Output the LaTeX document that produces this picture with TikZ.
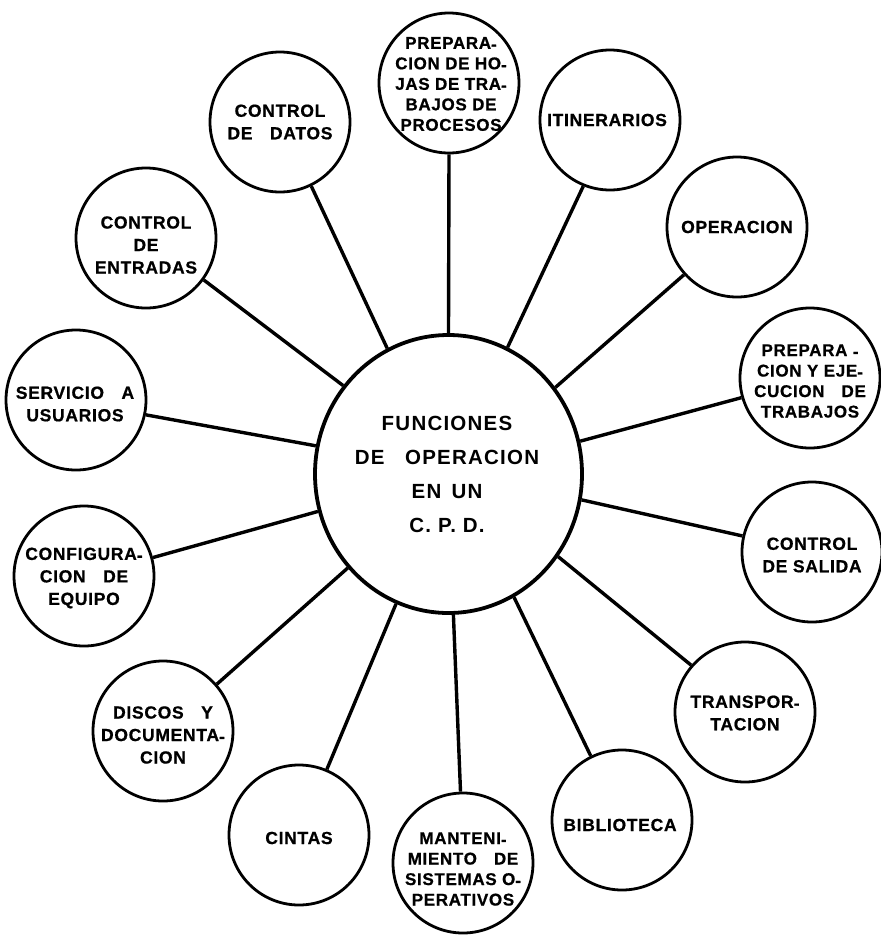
\documentclass[tikz,border=0pt]{standalone}
\usepackage{fontspec}
\setmainfont{Liberation Sans}
\newfontfamily\lblfont[LetterSpace=4,FakeBold=0.8]{Liberation Sans}
\newfontfamily\ctrfont[LetterSpace=6]{Liberation Sans}
\usetikzlibrary{shapes.geometric}
\newcommand\mydash{\raisebox{-0.15ex}{-}}
\tikzset{
  sat/.style={circle, draw, line width=2.8pt, minimum size=140pt, inner sep=0pt},
  txt/.style={align=center, inner sep=0pt, font=\lblfont\bfseries\fontsize{17.5}{22.5}\selectfont},
  txtsm/.style={align=center, inner sep=0pt, font=\lblfont\bfseries\fontsize{17}{20.5}\selectfont},
  link/.style={line width=3.4pt},
}
\begin{document}
\begin{tikzpicture}[x=1pt,y=-1pt]
\useasboundingbox (0,0) rectangle (881,938);
% central
\node[ellipse, draw, line width=3.8pt, minimum width=267pt, minimum height=278pt, inner sep=0pt] (c) at (448.5,474) {};
\node[align=center, inner sep=0pt, font=\ctrfont\bfseries\fontsize{20.5}{34}\selectfont] (ct) at (447,474) {FUNCIONES\\DE\quad OPERACION\\EN\enspace UN\\C.\,\,P.\,\,D.};
% satellites
\node[sat] (datos) at (280,122) {};
\node[txt] (datost) at (datos) {CONTROL\\DE\quad DATOS};
\node[sat] (hojas) at (449,83) {};
\node[txtsm] (hojast) at (451,84) {PREPARA\mydash\\CION DE HO\mydash\\JAS DE TRA\mydash\\BAJOS DE\qquad\\PROCESOS};
\node[sat] (itin) at (610,120) {};
\node[txt] (itint) at (607,120) {ITINERARIOS};
\node[sat] (oper) at (737,227) {};
\node[txt] (opert) at (oper) {OPERACION};
\node[sat] (prep) at (810,378) {};
\node[txtsm] (prept) at (810,381) {PREPARA \mydash\\CION Y EJE\mydash\\CUCION\quad DE\\TRABAJOS};
\node[sat] (salida) at (812,552) {};
\node[txt] (salidat) at (812,555) {CONTROL\\DE SALIDA};
\node[sat] (transp) at (745,712) {};
\node[txt] (transpt) at (745,713) {TRANSPOR\mydash\\TACION};
\node[sat] (biblio) at (622,820) {};
\node[txt] (bibliot) at (620,825) {BIBLIOTECA};
\node[sat] (mant) at (463,863) {};
\node[txtsm] (mantt) at (463,869) {MANTENI\mydash\\MIENTO\quad DE\\SISTEMAS O\mydash\\PERATIVOS};
\node[sat] (cintas) at (299,835) {};
\node[txt] (cintast) at (299,838) {CINTAS};
\node[sat] (discos) at (163,731) {};
\node[txt] (discost) at (163,735) {DISCOS\quad Y\\DOCUMENTA\mydash\\CION};
\node[sat] (config) at (84,576) {};
\node[txt] (configt) at (84,578) {CONFIGURA\mydash\\CION\quad DE\\EQUIPO};
\node[sat] (serv) at (76,400) {};
\node[txt] (servt) at (75,404) {SERVICIO\quad A\\USUARIOS};
\node[sat] (entr) at (146,238) {};
\node[txt] (entrt) at (146,245) {CONTROL\\DE\\ENTRADAS};
% connectors
\draw[link] (datos.-64) -- (c.116);
\draw[link] (hojas.-90) -- (c.90);
\draw[link] (itin.-112) -- (c.65);
\draw[link] (oper.-138.5) -- (c.39.8);
\draw[link] (prep.-164) -- (c.14.5);
\draw[link] (salida.167) -- (c.-11);
\draw[link] (transp.139.7) -- (c.-37.7);
\draw[link] (biblio.116) -- (c.-62.3);
\draw[link] (mant.92.4) -- (c.-88);
\draw[link] (cintas.67.6) -- (c.-112.7);
\draw[link] (discos.41.6) -- (c.-137.8);
\draw[link] (config.15.6) -- (c.-164.6);
\draw[link] (serv.-12.3) -- (c.168.8);
\draw[link] (entr.-36.7) -- (c.140.8);
\end{tikzpicture}
\end{document}
